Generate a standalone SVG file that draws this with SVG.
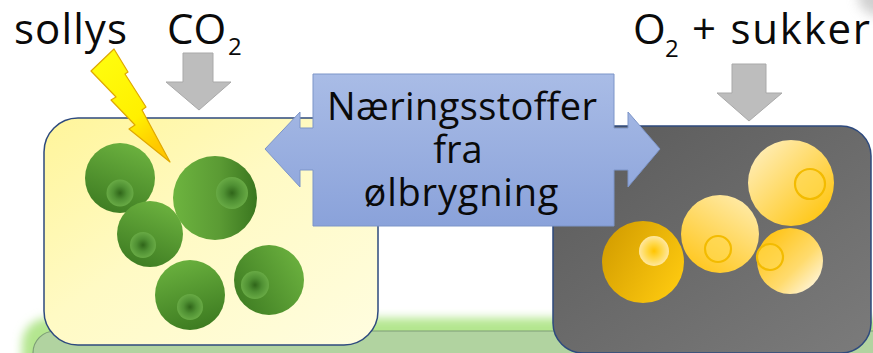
<svg xmlns="http://www.w3.org/2000/svg" width="873" height="353" viewBox="0 0 873 353">
  <style>
    .lbl { font-family: "Open Sans", "Liberation Sans", sans-serif; fill: #0a0a0a; }
    .big { font-size: 38px; }
    .top { font-size: 42px; }
    .sub { font-size: 24px; }
    .box { stroke: #2e4a7e; stroke-width: 1.5; }
    .grey-arrow { fill: #bdbdbd; stroke: #a9a9a9; stroke-width: 1; }
    .ring { fill: #ffd84e; fill-opacity: 0.55; stroke: #f3bb00; stroke-width: 2.2; }
  </style>
  <defs>
    <filter id="soft" x="-20%" y="-100%" width="140%" height="300%">
      <feGaussianBlur stdDeviation="5"/>
    </filter>
    <filter id="haze" x="-100%" y="-100%" width="300%" height="300%">
      <feGaussianBlur stdDeviation="6"/>
    </filter>
    <linearGradient id="yellowFill" x1="0" y1="0" x2="1" y2="1">
      <stop offset="0" stop-color="#fff59a"/>
      <stop offset="0.45" stop-color="#fffac4"/>
      <stop offset="1" stop-color="#fffde0"/>
    </linearGradient>
    <linearGradient id="greyFill" x1="0" y1="0" x2="1" y2="1">
      <stop offset="0" stop-color="#5a5a5a"/>
      <stop offset="1" stop-color="#7b7b7b"/>
    </linearGradient>
    <linearGradient id="blueFill" x1="0" y1="0" x2="0" y2="1">
      <stop offset="0" stop-color="#a9bce6"/>
      <stop offset="1" stop-color="#8aa2da"/>
    </linearGradient>
    <linearGradient id="boltFill" x1="0" y1="0" x2="0.6" y2="1">
      <stop offset="0" stop-color="#ffff10"/>
      <stop offset="0.7" stop-color="#fff000"/>
      <stop offset="1" stop-color="#ffc800"/>
    </linearGradient>
    <!-- green algae cells -->
    <linearGradient id="gA" x1="0.7" y1="0" x2="0.3" y2="1">
      <stop offset="0" stop-color="#6cb23f"/>
      <stop offset="1" stop-color="#3e7c22"/>
    </linearGradient>
    <linearGradient id="gB" x1="0" y1="0.5" x2="1" y2="0.5">
      <stop offset="0" stop-color="#6db43f"/>
      <stop offset="0.55" stop-color="#5b9b34"/>
      <stop offset="1" stop-color="#3a761f"/>
    </linearGradient>
    <linearGradient id="gD" x1="0.3" y1="0" x2="0.6" y2="1">
      <stop offset="0" stop-color="#6ab13e"/>
      <stop offset="1" stop-color="#3d7b21"/>
    </linearGradient>
    <linearGradient id="gE" x1="0" y1="0.8" x2="1" y2="0.2">
      <stop offset="0" stop-color="#3e7c22"/>
      <stop offset="1" stop-color="#6cb23f"/>
    </linearGradient>
    <radialGradient id="gNuc">
      <stop offset="0" stop-color="#2f6519"/>
      <stop offset="0.5" stop-color="#4f9033"/>
      <stop offset="1" stop-color="#68aa45"/>
    </radialGradient>
    <!-- yeast cells -->
    <linearGradient id="yF" x1="0" y1="0.2" x2="1" y2="0.8">
      <stop offset="0" stop-color="#d39d00"/>
      <stop offset="1" stop-color="#ffcb10"/>
    </linearGradient>
    <linearGradient id="yG" x1="0.85" y1="0" x2="0.2" y2="1">
      <stop offset="0" stop-color="#ffecae"/>
      <stop offset="1" stop-color="#ffc61a"/>
    </linearGradient>
    <linearGradient id="yH" x1="0.1" y1="0.1" x2="0.9" y2="0.9">
      <stop offset="0" stop-color="#ffedb6"/>
      <stop offset="1" stop-color="#ffc612"/>
    </linearGradient>
    <linearGradient id="yI" x1="0.15" y1="0.15" x2="0.9" y2="0.9">
      <stop offset="0" stop-color="#ffc51a"/>
      <stop offset="0.6" stop-color="#ffdb6e"/>
      <stop offset="1" stop-color="#fff5da"/>
    </linearGradient>
    <radialGradient id="yNucBright">
      <stop offset="0" stop-color="#ffc400"/>
      <stop offset="0.5" stop-color="#ffd84a"/>
      <stop offset="1" stop-color="#ffe7a0"/>
    </radialGradient>
  </defs>

  <!-- faint shadow in the top right corner -->
  <ellipse cx="890" cy="-2" rx="32" ry="20" fill="#c4c4c4" filter="url(#haze)" opacity="0.8"/>

  <!-- green base strip with glow -->
  <g id="base-strip">
    <rect x="22" y="318" width="900" height="70" rx="26" fill="#b4e68f" filter="url(#soft)"/>
    <rect x="33" y="331" width="900" height="50" rx="22" fill="#b1d3a0" stroke="#7e9e77" stroke-width="1.2"/>
  </g>

  <!-- algae culture -->
  <g id="algae-tank">
    <rect class="box" x="44" y="118" width="334" height="227" rx="34" fill="url(#yellowFill)"/>
    <circle cx="120" cy="178" r="35" fill="url(#gA)"/>
    <circle cx="120" cy="193" r="13.5" fill="url(#gNuc)"/>
    <circle cx="150" cy="234" r="33" fill="url(#gA)"/>
    <circle cx="143" cy="245" r="13" fill="url(#gNuc)"/>
    <circle cx="215" cy="198" r="42" fill="url(#gB)"/>
    <circle cx="232" cy="193" r="16" fill="url(#gNuc)"/>
    <circle cx="190" cy="295" r="35" fill="url(#gD)"/>
    <circle cx="190" cy="307" r="13" fill="url(#gNuc)"/>
    <circle cx="269" cy="280" r="35" fill="url(#gE)"/>
    <circle cx="255" cy="285" r="14" fill="url(#gNuc)"/>
  </g>

  <!-- yeast culture -->
  <g id="yeast-tank">
    <rect class="box" x="553" y="126" width="318" height="227" rx="30" fill="url(#greyFill)"/>
    <circle cx="791" cy="183" r="43" fill="url(#yH)"/>
    <circle class="ring" cx="810" cy="184" r="15"/>
    <circle cx="720" cy="234" r="39" fill="url(#yG)"/>
    <circle class="ring" cx="718" cy="249" r="13"/>
    <circle cx="790" cy="261" r="33" fill="url(#yI)"/>
    <circle class="ring" cx="770" cy="257" r="13"/>
    <circle cx="643" cy="262" r="41" fill="url(#yF)"/>
    <circle cx="654" cy="251" r="15" fill="url(#yNucBright)"/>
  </g>

  <!-- inputs and exchange -->
  <g id="connectors">
    <polygon id="sunlight" points="114,49 128,72 125,74 146,107 142,110 170,162 129,129 135,125 111,100 116,97 91,71" fill="url(#boltFill)" stroke="#e0a800" stroke-width="1.2" stroke-linejoin="round"/>
    <polygon id="co2-in" class="grey-arrow" points="183,53 213,53 213,82 231,82 199,110 166,82 183,82"/>
    <polygon id="o2-sugar-in" class="grey-arrow" points="732,64 766,64 766,93 782,93 749,121 717,93 732,93"/>
    <g id="nutrient-exchange">
      <polygon points="265,149 300,112 300,128 313,128 313,74 614,74 614,128 628,128 628,112 660,149 628,187 628,170 614,170 614,226 313,226 313,170 300,170 300,187" fill="url(#blueFill)" stroke="#7d95c8" stroke-width="1"/>
      <text class="lbl big" text-anchor="middle"><tspan x="462" y="120" textLength="270">Næringsstoffer</tspan><tspan x="458" y="163">fra</tspan><tspan x="461" y="206" textLength="195">ølbrygning</tspan></text>
    </g>
  </g>

  <!-- labels -->
  <g id="labels">
    <text class="lbl top" x="14" y="44" textLength="113">sollys</text>
    <text class="lbl top" x="167" y="44">CO</text>
    <text class="lbl sub" x="228" y="55">2</text>
    <text class="lbl top" x="633" y="44">O</text>
    <text class="lbl sub" x="665" y="57">2</text>
    <text class="lbl top" x="692" y="44" textLength="178">+ sukker</text>
  </g>
</svg>
